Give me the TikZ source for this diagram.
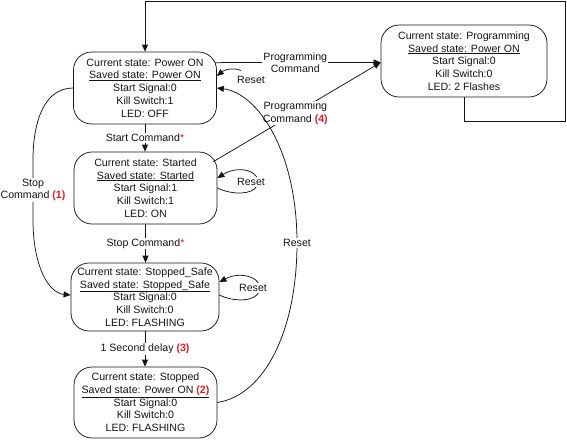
\documentclass[tikz,border=0pt]{standalone}
\usepackage{fontspec}
\setmainfont{Liberation Sans}
\usetikzlibrary{arrows.meta,calc}
\definecolor{numred}{RGB}{225,30,35}
\definecolor{ink}{RGB}{20,20,20}
\newcommand{\rn}[1]{\textcolor{numred}{\textbf{#1}}}
\newcommand{\rs}{\textcolor{numred}{*}}
\begin{document}
\begin{tikzpicture}[x=1pt,y=-1pt,
  txt/.style={font=\fontsize{10.6}{12.7}\selectfont, text=ink},
  state/.style={txt, draw=ink, rounded corners=18pt, line width=0.75pt,
    minimum width=143pt, minimum height=72pt, align=center, inner sep=0pt},
  lbl/.style={txt, fill=white, align=center, inner sep=1pt},
  arr/.style={draw=ink, line width=0.75pt, -{Triangle[length=7pt,width=6pt]}}]
\useasboundingbox (0,0) rectangle (567,440);

% states
\node[state] (pon) at (145,88)
  {Current state: Power ON\\\underline{Saved state: Power ON}\\Start Signal:0\\Kill Switch:1\\LED: OFF};
\node[state] (started) at (145.5,188)
  {Current state: Started\\\underline{Saved state: Started}\\Start Signal:1\\Kill Switch:1\\LED: ON};
\node[state, minimum width=148pt, minimum height=68pt] (safe) at (145,297)
  {Current state: Stopped\_Safe\\\underline{Saved state: Stopped\_Safe}\\Start Signal:0\\Kill Switch:0\\LED: FLASHING};
\node[state, minimum height=71pt] (stopped) at (145.5,402.5)
  {Current state: Stopped\\\underline{Saved state: Power ON \rn{(2)}}\\Start Signal:0\\Kill Switch:0\\LED: FLASHING};
\node[state, minimum width=166pt] (prog) at (464,61)
  {Current state: Programming\\\underline{Saved state: Power ON}\\Start Signal:0\\Kill Switch:0\\LED: 2 Flashes};

% programming -> power on (outer loop)
\draw[arr] (prog.south) -- ++(0,24) -| (565.5,1.5) -| (pon.north);

% power on -> programming
\draw[arr] ([shift={(-2,11)}]pon.north east) --
  node[lbl, pos=0.485] (lp1) {Programming\\Command} ([shift={(0,1.5)}]prog.west);
% started -> programming
\draw[arr] ([shift={(-4,10)}]started.north east) --
  node[lbl, pos=0.49] (lp2) {Programming\\Command \rn{(4)}} ([shift={(0,1.5)}]prog.west);

% vertical transitions
\draw[arr] (pon.south) -- node[lbl] (ls1) {Start Command\rs} (pon.south |- started.north);
\draw[arr] (started.south) -- node[lbl] (ls2) {Stop Command\rs} (started.south |- safe.north);
\draw[arr] (safe.south) -- node[lbl] (ls3) {1 Second delay \rn{(3)}} (safe.south |- stopped.north);

% stop command (1)
\draw[arr] (pon.west) .. controls (45,88) and (33,120) .. (33,160)
  -- node[lbl] (ls4) {Stop\\Command \rn{(1)}} (33,220)
  .. controls (33,265) and (48,293) .. ([shift={(0,-2)}]safe.west);

% big reset
\draw[arr] (stopped.east) .. controls (265,395) and (297,330) .. (297,243)
  node[lbl] (lr0) {Reset}
  .. controls (297,150) and (257,93) .. (pon.east);

% self loops
\coordinate (r1s) at (241,70.5);
\draw[arr] (r1s) .. controls (233,67) and (224,70) .. ([shift={(0,-12)}]pon.east);
\node[lbl] (lr1) at (251,80) {Reset};

\draw[arr] (started.east) .. controls (232,195) and (252,195) .. (257,186)
  .. controls (263,172) and (240,164) .. ([shift={(0,-10)}]started.east);
\node[lbl] (lr2) at (251,182) {Reset};

\draw[arr] ([shift={(0,-2)}]safe.east) .. controls (234,302) and (254,302) .. (259,292)
  .. controls (265,279) and (242,270) .. ([shift={(0,-15)}]safe.east);
\node[lbl] (lr3) at (253,288) {Reset};
\end{tikzpicture}
\end{document}
